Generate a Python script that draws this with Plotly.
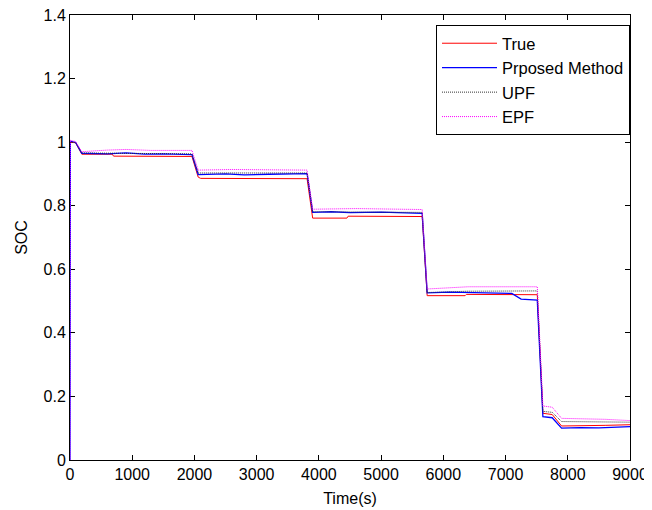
import plotly.graph_objects as go

# ---- data ----
true_t = [0, 90, 190, 680, 700, 1960, 2060, 2100, 3810, 3900, 4450, 4470, 5660, 5740, 6350, 6370, 7510, 7600, 7750, 7900, 8600, 9000]
true_v = [1.000, 0.998, 0.962, 0.962, 0.956, 0.955, 0.890, 0.886, 0.885, 0.761, 0.761, 0.767, 0.766, 0.517, 0.517, 0.521, 0.520, 0.147, 0.143, 0.107, 0.109, 0.111]

prop_t = [0, 5, 90, 190, 600, 900, 1200, 1500, 1960, 2060, 2500, 2800, 3200, 3810, 3900, 4200, 4500, 5000, 5660, 5740, 6100, 6500, 7100, 7250, 7510, 7600, 7750, 7900, 8200, 8500, 9000]
prop_v = [0.0, 1.003, 0.999, 0.965, 0.963, 0.966, 0.962, 0.963, 0.961, 0.898, 0.900, 0.897, 0.899, 0.901, 0.779, 0.781, 0.778, 0.780, 0.776, 0.526, 0.528, 0.527, 0.524, 0.506, 0.503, 0.136, 0.133, 0.100, 0.102, 0.101, 0.105]

upf_t = [0, 90, 190, 1960, 2060, 3810, 3900, 5660, 5740, 6400, 7510, 7600, 7750, 7900, 9000]
upf_v = [1.000, 0.999, 0.966, 0.963, 0.903, 0.903, 0.781, 0.779, 0.527, 0.531, 0.532, 0.153, 0.150, 0.121, 0.119]

epf_t = [0, 5, 90, 190, 600, 900, 1300, 1960, 2060, 2600, 3810, 3900, 4600, 5660, 5740, 6400, 7510, 7600, 7750, 7900, 8600, 9000]
epf_v = [0.0, 1.006, 1.002, 0.970, 0.975, 0.977, 0.974, 0.974, 0.912, 0.914, 0.912, 0.789, 0.791, 0.788, 0.538, 0.545, 0.545, 0.170, 0.166, 0.131, 0.128, 0.124]

x_ticks = [0, 1000, 2000, 3000, 4000, 5000, 6000, 7000, 8000, 9000]
y_ticks = [0, 0.2, 0.4, 0.6, 0.8, 1.0, 1.2, 1.4]
y_labels = ["0", "0.2", "0.4", "0.6", "0.8", "1", "1.2", "1.4"]

FONT = "Liberation Sans, Arial, sans-serif"

fig = go.Figure()
fig.add_trace(go.Scatter(x=true_t, y=true_v, mode="lines", name="True",
                         line=dict(color="#ff0000", width=1)))
fig.add_trace(go.Scatter(x=prop_t, y=prop_v, mode="lines", name="Prposed Method",
                         line=dict(color="#0000ff", width=1.3)))
fig.add_trace(go.Scatter(x=upf_t, y=upf_v, mode="lines", name="UPF",
                         line=dict(color="#333333", width=1, dash="1px,1px")))
fig.add_trace(go.Scatter(x=epf_t, y=epf_v, mode="lines", name="EPF",
                         line=dict(color="#ff00ff", width=1, dash="1px,1px")))

axis_common = dict(showline=True, linecolor="black", linewidth=1, mirror="ticks",
                   ticks="inside", ticklen=5, tickcolor="black", showgrid=False,
                   zeroline=False, tickfont=dict(family=FONT, size=16, color="black"),
                   layer="below traces", automargin=False, ticklabeloverflow="allow")

# the page body has an 8px margin, so the figure is 8px smaller and offset
fig.update_layout(
    width=644, height=502,
    margin=dict(l=62, r=22, t=7, b=50),
    paper_bgcolor="white", plot_bgcolor="white",
    font=dict(family=FONT, size=16, color="black"),
    xaxis=dict(range=[0, 9000], tickvals=x_ticks, ticktext=[str(v) for v in x_ticks],
               title=dict(text="Time(s)", font=dict(family=FONT, size=16), standoff=10),
               **axis_common),
    yaxis=dict(range=[0, 1.4], tickvals=y_ticks, ticktext=y_labels,
               title=dict(text="SOC", font=dict(family=FONT, size=16), standoff=11),
               **axis_common),
    legend=dict(x=1, xanchor="right", y=1 - 10 / 445, yanchor="top",
                bgcolor="white", bordercolor="black", borderwidth=1,
                font=dict(family=FONT, size=16.5, color="black"),
                itemwidth=55),
    showlegend=True,
)

fig.write_html("out.html")
